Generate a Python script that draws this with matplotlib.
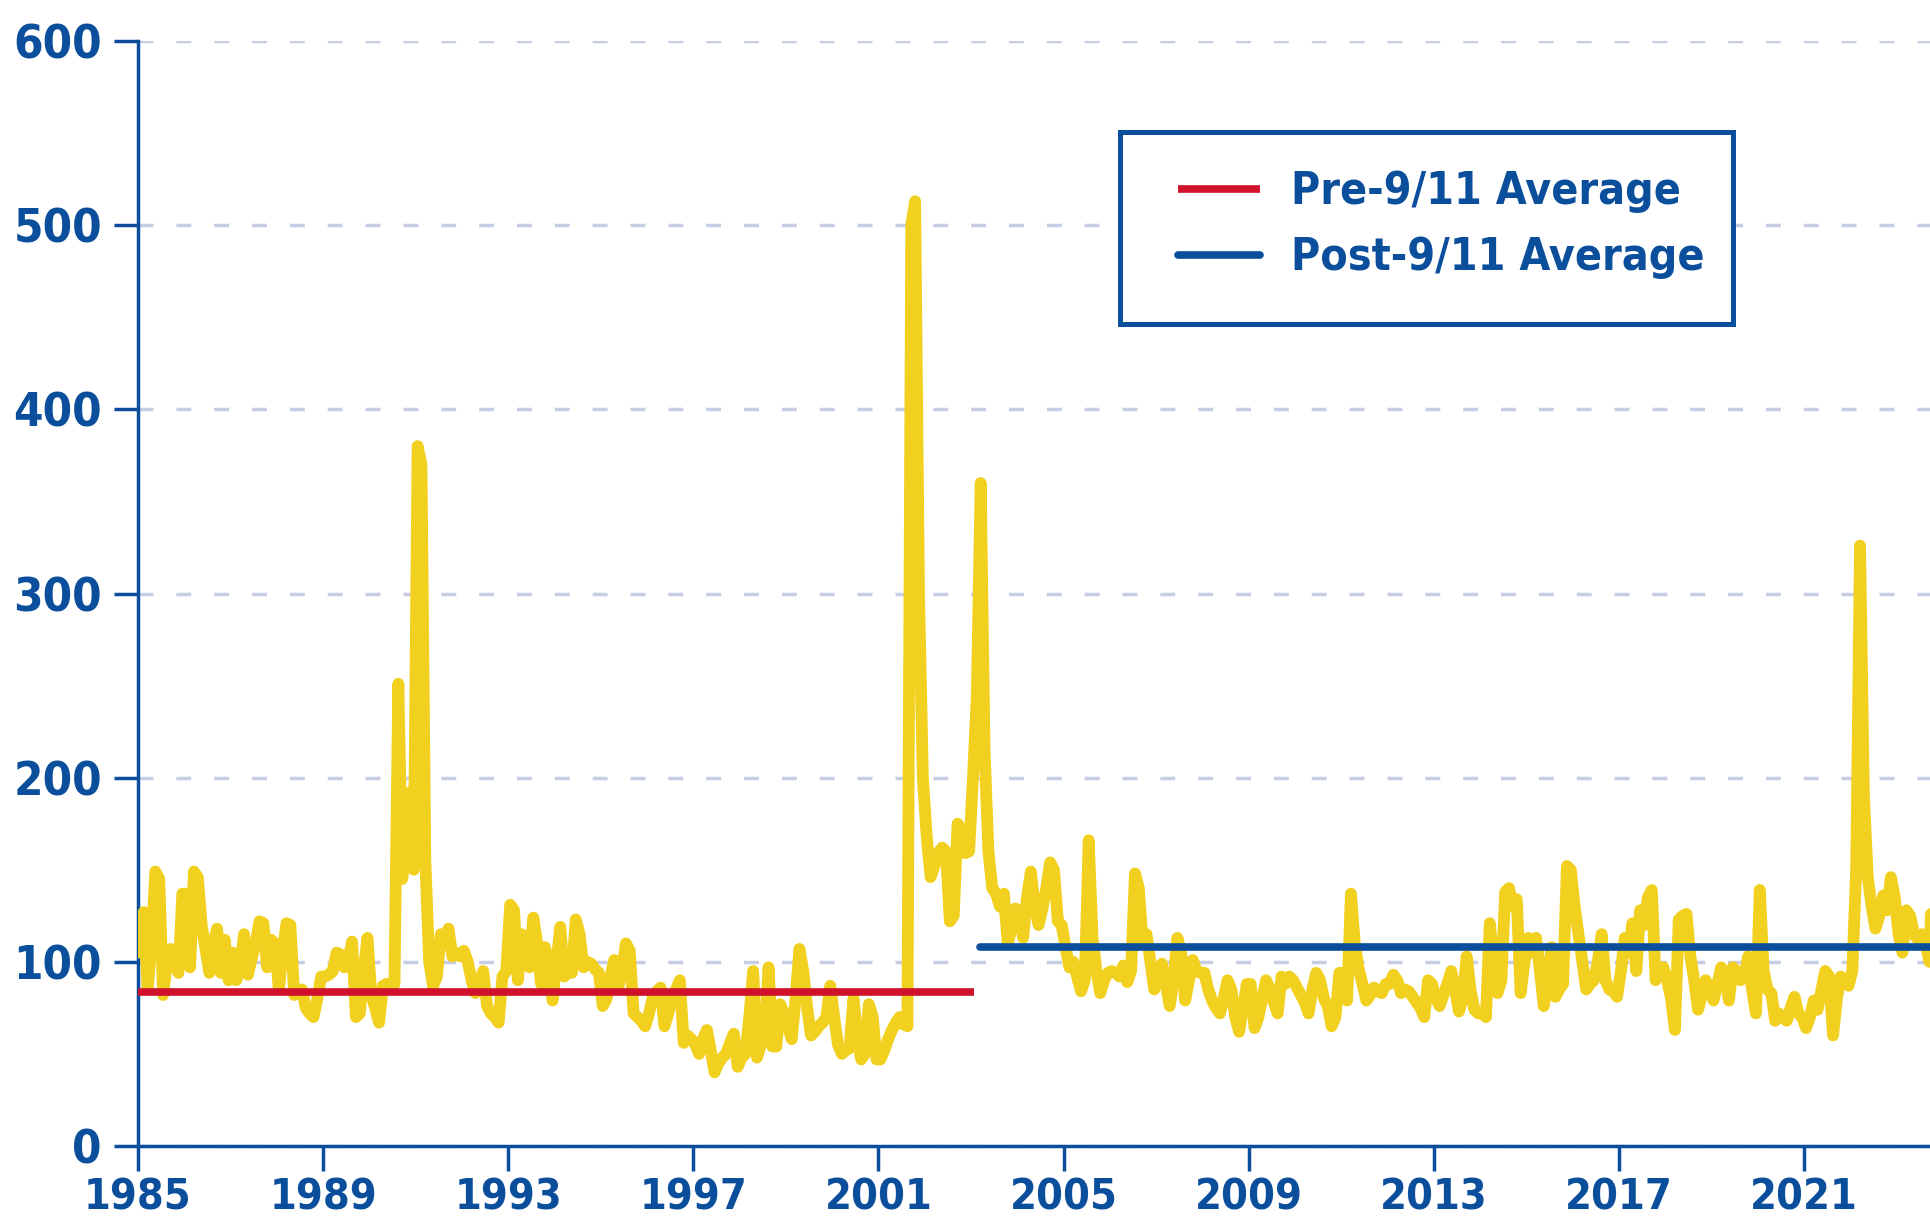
import numpy as np
import matplotlib
matplotlib.use('Agg')
import matplotlib.pyplot as plt
from matplotlib import font_manager as fm
from matplotlib.patches import Rectangle


# Indice mensual (ene..dic)
v1985 = [105, 127, 85, 110, 149, 145, 82, 100, 107, 98, 94, 137]
v1986 = [137, 97, 149, 146, 120, 107, 94, 110, 118, 94, 112, 90]
v1987 = [105, 90, 98, 115, 93, 102, 110, 122, 121, 97, 112, 110]
v1988 = [85, 105, 121, 120, 82, 84, 85, 75, 72, 70, 80, 92]
v1989 = [92, 93, 95, 105, 104, 97, 100, 111, 70, 72, 95, 113]
v1990 = [82, 75, 67, 87, 88, 88, 88, 251, 145, 160, 192, 150]
v1991 = [380, 370, 155, 100, 87, 92, 115, 110, 118, 103, 105, 103]
v1992 = [106, 100, 90, 83, 88, 95, 76, 72, 70, 67, 92, 95]
v1993 = [131, 128, 90, 115, 105, 97, 124, 110, 88, 108, 100, 79]
v1994 = [100, 119, 92, 95, 94, 123, 115, 97, 100, 99, 96, 94]
v1995 = [76, 80, 92, 101, 86, 95, 110, 106, 72, 70, 68, 65]
v1996 = [72, 81, 84, 86, 65, 72, 81, 85, 90, 56, 60, 58]
v1997 = [55, 50, 58, 63, 52, 40, 45, 48, 50, 56, 61, 43]
v1998 = [48, 50, 70, 95, 48, 55, 61, 97, 54, 54, 77, 72]
v1999 = [65, 58, 80, 107, 95, 75, 60, 62, 65, 67, 70, 87]
v2000 = [70, 55, 50, 52, 53, 80, 60, 47, 50, 77, 70, 47]
v2001 = [47, 52, 58, 63, 67, 70, 66, 65, 500, 513, 300, 200]
v2002 = [168, 146, 152, 159, 162, 160, 122, 125, 175, 172, 159, 160]
v2003 = [200, 245, 360, 215, 160, 140, 137, 130, 137, 110, 118, 129]
v2004 = [125, 113, 135, 149, 130, 120, 129, 140, 154, 150, 122, 120]
v2005 = [108, 97, 100, 92, 84, 90, 166, 113, 95, 83, 90, 94]
v2006 = [95, 94, 92, 98, 89, 95, 148, 140, 110, 115, 100, 85]
v2007 = [90, 99, 88, 76, 90, 113, 105, 79, 90, 101, 95, 94]
v2008 = [94, 85, 79, 75, 72, 80, 90, 85, 70, 62, 75, 88]
v2009 = [88, 64, 70, 80, 90, 85, 78, 72, 92, 88, 92, 90]
v2010 = [86, 82, 78, 72, 85, 94, 90, 80, 76, 65, 70, 94]
v2011 = [94, 79, 137, 110, 96, 88, 79, 82, 86, 84, 83, 88]
v2012 = [88, 93, 90, 83, 85, 84, 81, 78, 75, 70, 90, 88]
v2013 = [80, 76, 82, 88, 95, 85, 73, 80, 103, 85, 74, 72]
v2014 = [72, 70, 121, 100, 83, 90, 138, 140, 130, 134, 83, 100]
v2015 = [113, 105, 113, 95, 76, 90, 108, 81, 85, 88, 152, 150]
v2016 = [130, 115, 100, 85, 88, 90, 100, 115, 90, 85, 84, 81]
v2017 = [95, 113, 105, 121, 95, 128, 120, 135, 139, 90, 95, 97]
v2018 = [90, 80, 63, 123, 125, 126, 103, 90, 74, 82, 90, 85]
v2019 = [79, 88, 97, 92, 79, 97, 95, 90, 92, 103, 85, 72]
v2020 = [139, 95, 85, 83, 68, 72, 70, 68, 75, 81, 72, 70]
v2021 = [64, 70, 79, 74, 85, 95, 92, 60, 80, 92, 90, 87]
v2022 = [95, 150, 326, 190, 146, 130, 118, 125, 136, 128, 146, 135]
v2023 = [115, 105, 128, 125, 115, 112, 115, 110, 100, 165, 140, 130]

# promedios antes / despues
pre_avg = 83.5
post_avg = 108.2
pre_span = [1985, 2003.06]
post_span = [2003.2, 2024.0]

year_ticks = list(range(1985, 2022, 4))
y_ticks = [0, 100, 200, 300, 400, 500, 600]
legend_labels = ['Pre-9/11 Average', 'Post-9/11 Average']

amarillo = '#F2D01F'
rojo = '#D0112B'
azul = '#0B4F9C'
gris = '#C8CDE6'


# buscar una fuente estrecha en negrita, si hay alguna
def es_estrecha(f):
    n = (f.name + ' ' + f.fname).lower()
    return ('narrow' in n or 'condensed' in n or f.stretch in ('condensed', 'semi-condensed'))

def es_negrita(f):
    return f.weight in ('bold', 700, '700') or 'bold' in f.fname.lower()

estrechas = [f for f in fm.fontManager.ttflist if es_estrecha(f) and es_negrita(f)]
estrechas.sort(key=lambda f: 0 if 'liberation' in f.name.lower() else 1)

if estrechas:
    fuente = fm.FontProperties(fname=estrechas[0].fname)
else:
    fuente = fm.FontProperties(family='Liberation Sans', weight='bold')

fuente_y = fuente.copy()
fuente_y.set_size(34)
fuente_x = fuente.copy()
fuente_x.set_size(31)
fuente_leg = fuente.copy()
fuente_leg.set_size(32)

valores = np.concatenate([v1985, v1986, v1987, v1988, v1989, v1990, v1991, v1992,
                          v1993, v1994, v1995, v1996, v1997, v1998, v1999, v2000,
                          v2001, v2002, v2003, v2004, v2005, v2006, v2007, v2008,
                          v2009, v2010, v2011, v2012, v2013, v2014, v2015, v2016,
                          v2017, v2018, v2019, v2020, v2021, v2022, v2023])
fechas = 1985 + (np.arange(len(valores)) + 0.5) / 12


fig = plt.figure(figsize=(19.3, 12.3), dpi=100)
ax = fig.add_axes([138/1930, 1 - 1146/1230, 1 - 138/1930, (1146 - 41)/1230])

ax.plot(fechas, valores, color=amarillo, lw=8.5,
        solid_joinstyle='round', solid_capstyle='round', zorder=3)
l_pre, = ax.plot(pre_span, [pre_avg, pre_avg], color=rojo, lw=5.5,
                 solid_capstyle='butt', zorder=4)
l_post, = ax.plot(post_span, [post_avg, post_avg], color=azul, lw=5.5,
                  solid_capstyle='round', zorder=4)

ax.set_xlim(1985, 2023.72)
ax.set_ylim(0, 600)
ax.set_xticks(year_ticks)
ax.set_yticks(y_ticks)

ax.set_axisbelow(True)
ax.yaxis.grid(True, color=gris, lw=2.5, linestyle=(0, (4.3, 6.6)))

for s in ['top', 'right']:
    ax.spines[s].set_visible(False)
for s in ['left', 'bottom']:
    ax.spines[s].set_color(azul)
    ax.spines[s].set_linewidth(2.5)

ax.tick_params(axis='y', length=17, width=2.5, color=azul, pad=9)
ax.tick_params(axis='x', length=18, width=2.5, color=azul, pad=4)
for t in ax.get_yticklabels():
    t.set_fontproperties(fuente_y)
    t.set_color(azul)
for t in ax.get_xticklabels():
    t.set_fontproperties(fuente_x)
    t.set_color(azul)

# caja de la leyenda
caja = Rectangle((0.548, 0.7439), 0.890 - 0.548, 0.9176 - 0.7439,
                 transform=ax.transAxes, facecolor='white', edgecolor=azul,
                 lw=3.6, zorder=5)
ax.add_patch(caja)

leg = ax.legend([l_pre, l_post], legend_labels, loc='upper left',
                bbox_to_anchor=(0.5804, 0.883), frameon=False, borderpad=0,
                borderaxespad=0, handlelength=1.85, handletextpad=0.69,
                labelspacing=0.52, labelcolor=azul, prop=fuente_leg)
leg.set_zorder(6)

fig.savefig('out.png', dpi=100)
